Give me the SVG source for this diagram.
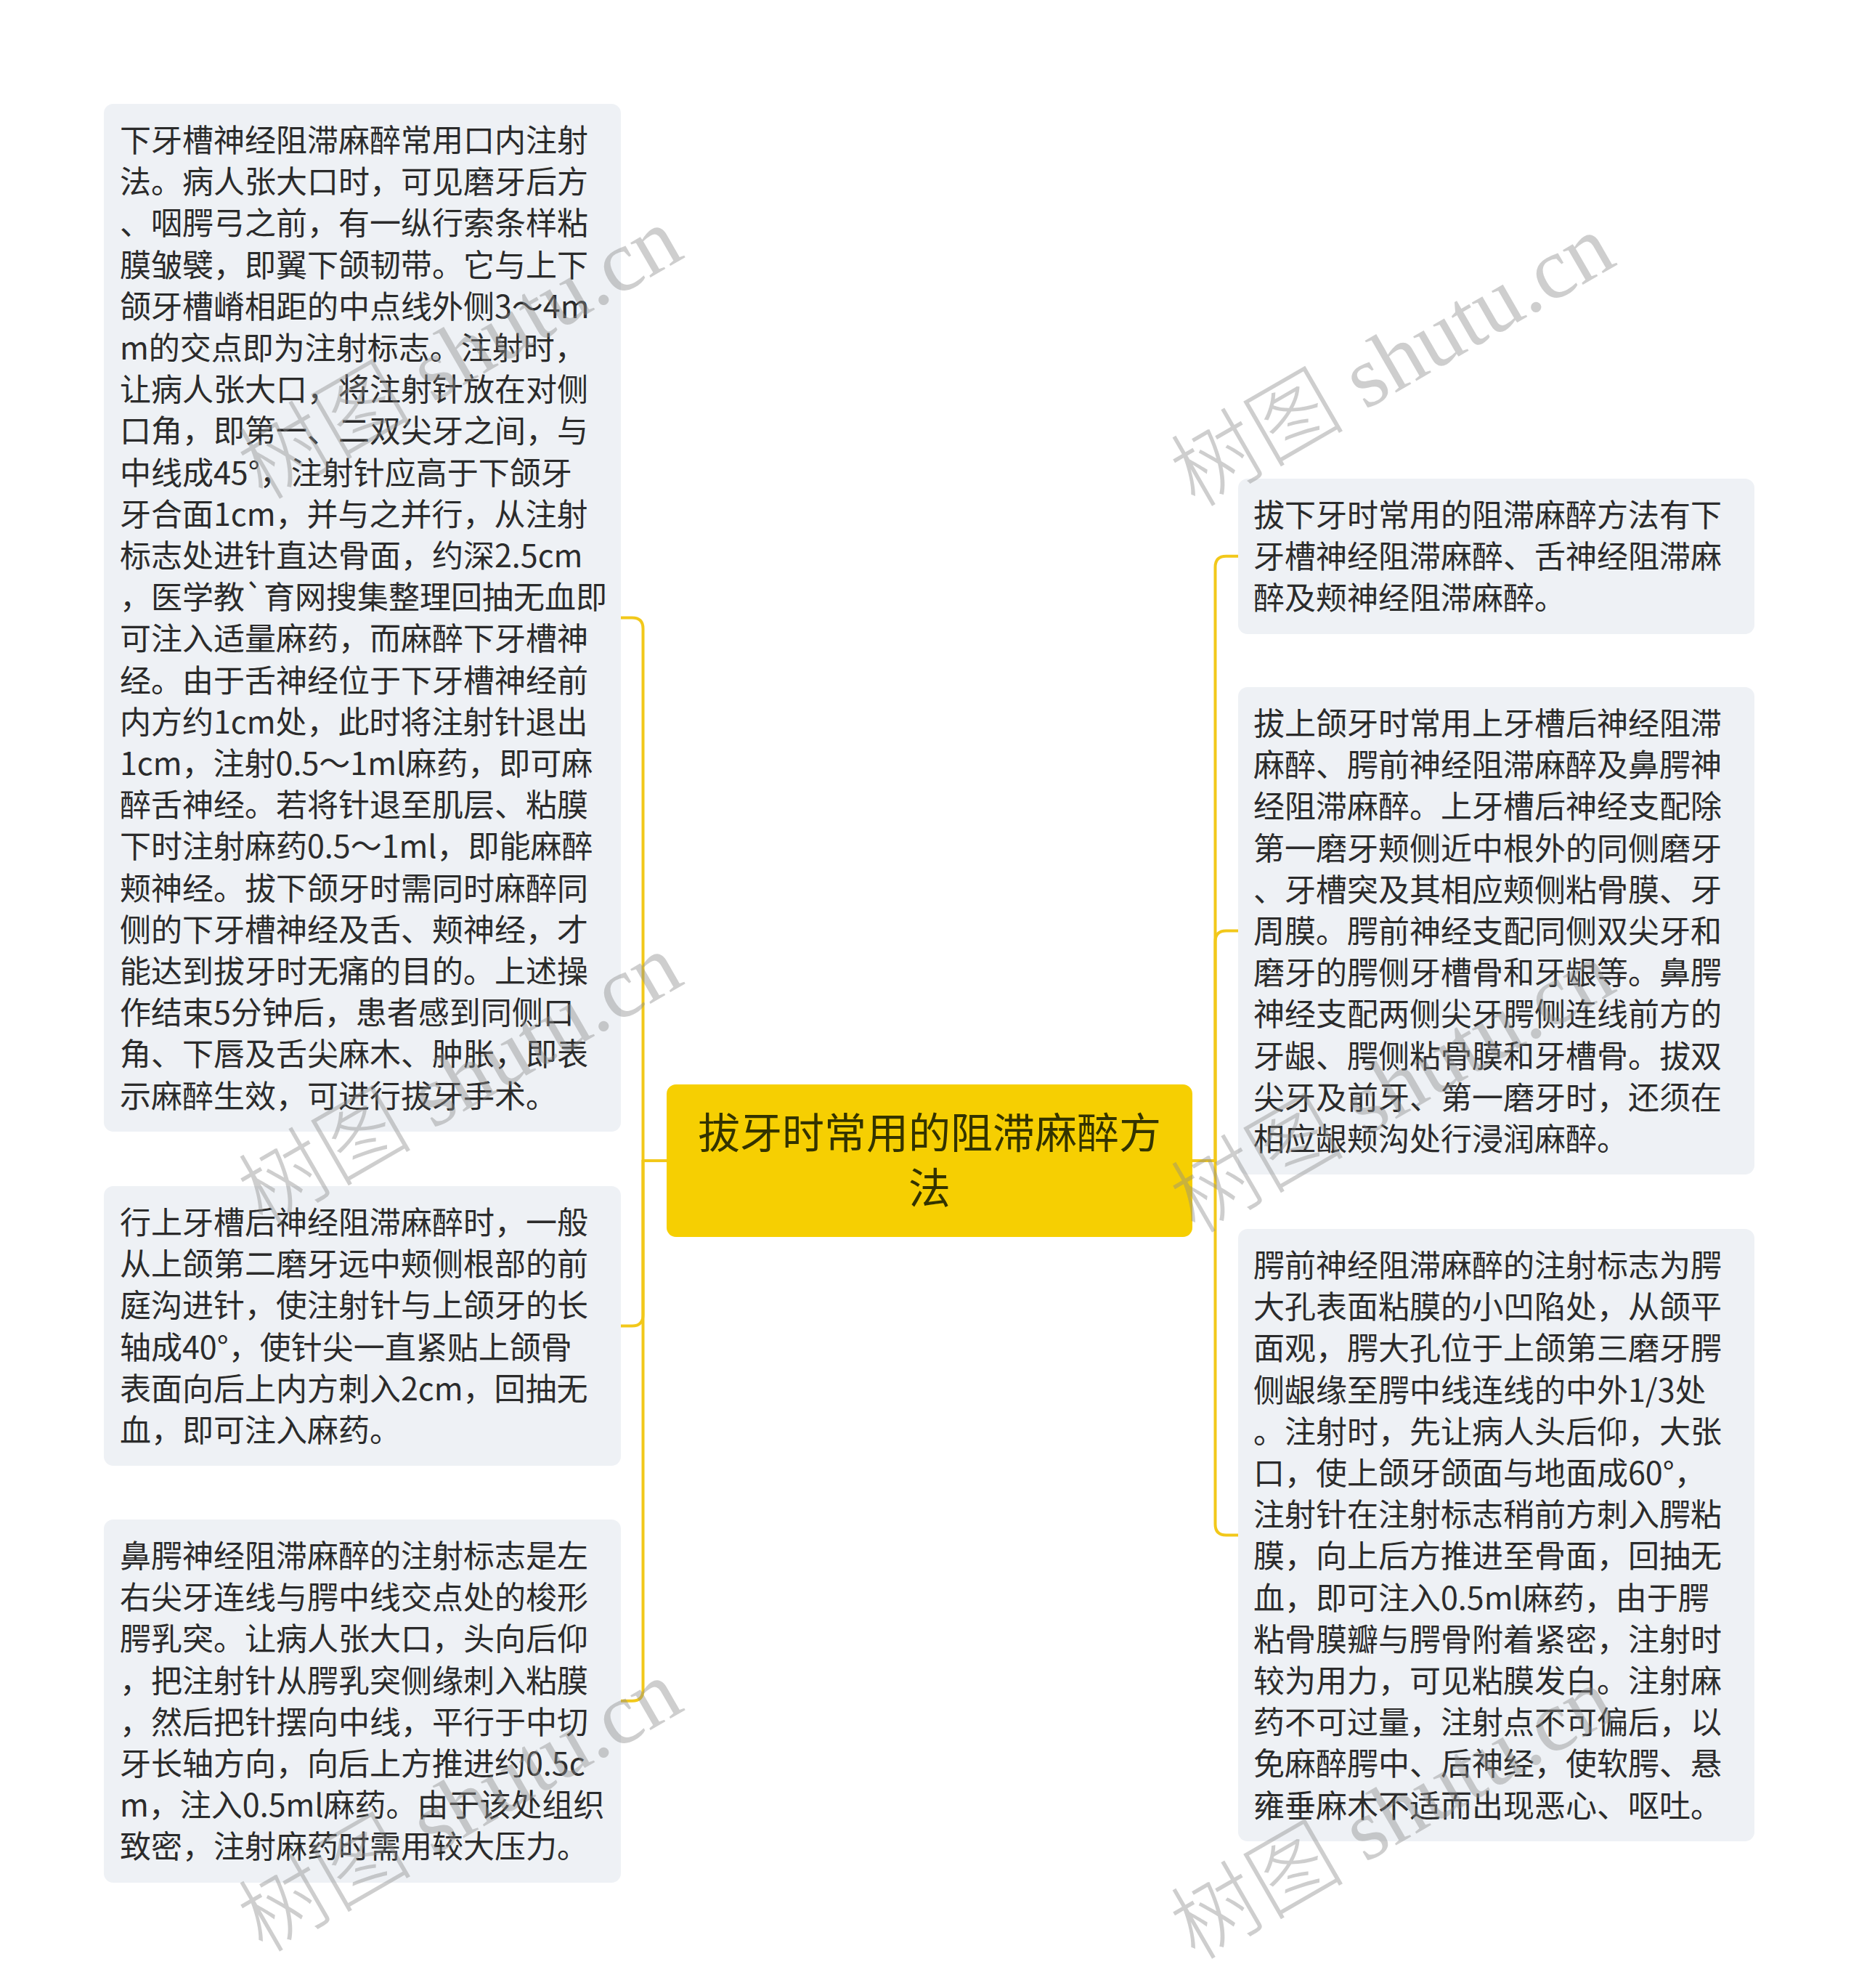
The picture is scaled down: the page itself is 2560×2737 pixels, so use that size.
<svg xmlns="http://www.w3.org/2000/svg" width="2560" height="2737" viewBox="0 0 2560 2737">
<style>
.bg{fill:#ffffff}
.node rect{fill:#eef1f5}
.node text{font-family:"Noto Sans CJK SC","Noto Sans",sans-serif;font-size:43px;fill:#2b2b2b}
.root rect{fill:#f6cf02}
.root text{font-family:"Noto Sans CJK SC","Noto Sans",sans-serif;font-size:58px;fill:#333300;text-anchor:middle}
.conn path{fill:none;stroke:#f2c81a;stroke-width:4;stroke-linejoin:round}
.wm{font-family:"Liberation Serif","Noto Sans CJK SC",serif;font-size:120px;fill:#8c8c8c;opacity:0.42}
.wm .cj{font-family:"Noto Sans CJK SC",sans-serif;font-weight:300}
</style>
<rect class="bg" x="0" y="0" width="2560" height="2737"/>
<g id="connectors" class="conn">
<path d="M918,1598 H885.5 V865.4 Q885.5,850.4 870.5,850.4 H855"/>
<path d="M918,1598 H885.5 V1810.5 Q885.5,1825.5 870.5,1825.5 H855"/>
<path d="M918,1598 H885.5 V2326.8 Q885.5,2341.8 870.5,2341.8 H855"/>
<path d="M1642,1598 H1673.5 V780.8 Q1673.5,765.8 1688.5,765.8 H1705"/>
<path d="M1642,1598 H1673.5 V1296.5 Q1673.5,1281.5 1688.5,1281.5 H1705"/>
<path d="M1642,1598 H1673.5 V2098.4 Q1673.5,2113.4 1688.5,2113.4 H1705"/>
</g>
<g id="root" class="root">
<rect x="918" y="1493" width="724" height="210" rx="13"/>
<text x="1280" y="1581">拔牙时常用的阻滞麻醉方</text>
<text x="1280" y="1657">法</text>
</g>
<g id="node-l1" class="node">
<rect x="143" y="143" width="712" height="1415" rx="13"/>
<text x="165" y="209">
<tspan x="165">下牙槽神经阻滞麻醉常用口内注射</tspan>
<tspan x="165" dy="57.2">法。病人张大口时，可见磨牙后方</tspan>
<tspan x="165" dy="57.2">、咽腭弓之前，有一纵行索条样粘</tspan>
<tspan x="165" dy="57.2">膜皱襞，即翼下颌韧带。它与上下</tspan>
<tspan x="165" dy="57.2">颌牙槽嵴相距的中点线外侧3～4m</tspan>
<tspan x="165" dy="57.2">m的交点即为注射标志。注射时，</tspan>
<tspan x="165" dy="57.2">让病人张大口，将注射针放在对侧</tspan>
<tspan x="165" dy="57.2">口角，即第一、二双尖牙之间，与</tspan>
<tspan x="165" dy="57.2">中线成45°，注射针应高于下颌牙</tspan>
<tspan x="165" dy="57.2">牙合面1cm，并与之并行，从注射</tspan>
<tspan x="165" dy="57.2">标志处进针直达骨面，约深2.5cm</tspan>
<tspan x="165" dy="57.2">，医学教`育网搜集整理回抽无血即</tspan>
<tspan x="165" dy="57.2">可注入适量麻药，而麻醉下牙槽神</tspan>
<tspan x="165" dy="57.2">经。由于舌神经位于下牙槽神经前</tspan>
<tspan x="165" dy="57.2">内方约1cm处，此时将注射针退出</tspan>
<tspan x="165" dy="57.2">1cm，注射0.5～1ml麻药，即可麻</tspan>
<tspan x="165" dy="57.2">醉舌神经。若将针退至肌层、粘膜</tspan>
<tspan x="165" dy="57.2">下时注射麻药0.5～1ml，即能麻醉</tspan>
<tspan x="165" dy="57.2">颊神经。拔下颌牙时需同时麻醉同</tspan>
<tspan x="165" dy="57.2">侧的下牙槽神经及舌、颊神经，才</tspan>
<tspan x="165" dy="57.2">能达到拔牙时无痛的目的。上述操</tspan>
<tspan x="165" dy="57.2">作结束5分钟后，患者感到同侧口</tspan>
<tspan x="165" dy="57.2">角、下唇及舌尖麻木、肿胀，即表</tspan>
<tspan x="165" dy="57.2">示麻醉生效，可进行拔牙手术。</tspan>
</text>
</g>
<g id="node-l2" class="node">
<rect x="143" y="1633" width="712" height="385" rx="13"/>
<text x="165" y="1699">
<tspan x="165">行上牙槽后神经阻滞麻醉时，一般</tspan>
<tspan x="165" dy="57.2">从上颌第二磨牙远中颊侧根部的前</tspan>
<tspan x="165" dy="57.2">庭沟进针，使注射针与上颌牙的长</tspan>
<tspan x="165" dy="57.2">轴成40°，使针尖一直紧贴上颌骨</tspan>
<tspan x="165" dy="57.2">表面向后上内方刺入2cm，回抽无</tspan>
<tspan x="165" dy="57.2">血，即可注入麻药。</tspan>
</text>
</g>
<g id="node-l3" class="node">
<rect x="143" y="2092" width="712" height="500" rx="13"/>
<text x="165" y="2158">
<tspan x="165">鼻腭神经阻滞麻醉的注射标志是左</tspan>
<tspan x="165" dy="57.2">右尖牙连线与腭中线交点处的梭形</tspan>
<tspan x="165" dy="57.2">腭乳突。让病人张大口，头向后仰</tspan>
<tspan x="165" dy="57.2">，把注射针从腭乳突侧缘刺入粘膜</tspan>
<tspan x="165" dy="57.2">，然后把针摆向中线，平行于中切</tspan>
<tspan x="165" dy="57.2">牙长轴方向，向后上方推进约0.5c</tspan>
<tspan x="165" dy="57.2">m，注入0.5ml麻药。由于该处组织</tspan>
<tspan x="165" dy="57.2">致密，注射麻药时需用较大压力。</tspan>
</text>
</g>
<g id="node-r1" class="node">
<rect x="1705" y="659" width="711" height="214" rx="13"/>
<text x="1726" y="725">
<tspan x="1726">拔下牙时常用的阻滞麻醉方法有下</tspan>
<tspan x="1726" dy="57.2">牙槽神经阻滞麻醉、舌神经阻滞麻</tspan>
<tspan x="1726" dy="57.2">醉及颊神经阻滞麻醉。</tspan>
</text>
</g>
<g id="node-r2" class="node">
<rect x="1705" y="946" width="711" height="671" rx="13"/>
<text x="1726" y="1012">
<tspan x="1726">拔上颌牙时常用上牙槽后神经阻滞</tspan>
<tspan x="1726" dy="57.2">麻醉、腭前神经阻滞麻醉及鼻腭神</tspan>
<tspan x="1726" dy="57.2">经阻滞麻醉。上牙槽后神经支配除</tspan>
<tspan x="1726" dy="57.2">第一磨牙颊侧近中根外的同侧磨牙</tspan>
<tspan x="1726" dy="57.2">、牙槽突及其相应颊侧粘骨膜、牙</tspan>
<tspan x="1726" dy="57.2">周膜。腭前神经支配同侧双尖牙和</tspan>
<tspan x="1726" dy="57.2">磨牙的腭侧牙槽骨和牙龈等。鼻腭</tspan>
<tspan x="1726" dy="57.2">神经支配两侧尖牙腭侧连线前方的</tspan>
<tspan x="1726" dy="57.2">牙龈、腭侧粘骨膜和牙槽骨。拔双</tspan>
<tspan x="1726" dy="57.2">尖牙及前牙、第一磨牙时，还须在</tspan>
<tspan x="1726" dy="57.2">相应龈颊沟处行浸润麻醉。</tspan>
</text>
</g>
<g id="node-r3" class="node">
<rect x="1705" y="1692" width="711" height="843" rx="13"/>
<text x="1726" y="1758">
<tspan x="1726">腭前神经阻滞麻醉的注射标志为腭</tspan>
<tspan x="1726" dy="57.2">大孔表面粘膜的小凹陷处，从颌平</tspan>
<tspan x="1726" dy="57.2">面观，腭大孔位于上颌第三磨牙腭</tspan>
<tspan x="1726" dy="57.2">侧龈缘至腭中线连线的中外1/3处</tspan>
<tspan x="1726" dy="57.2">。注射时，先让病人头后仰，大张</tspan>
<tspan x="1726" dy="57.2">口，使上颌牙颌面与地面成60°，</tspan>
<tspan x="1726" dy="57.2">注射针在注射标志稍前方刺入腭粘</tspan>
<tspan x="1726" dy="57.2">膜，向上后方推进至骨面，回抽无</tspan>
<tspan x="1726" dy="57.2">血，即可注入0.5ml麻药，由于腭</tspan>
<tspan x="1726" dy="57.2">粘骨膜瓣与腭骨附着紧密，注射时</tspan>
<tspan x="1726" dy="57.2">较为用力，可见粘膜发白。注射麻</tspan>
<tspan x="1726" dy="57.2">药不可过量，注射点不可偏后，以</tspan>
<tspan x="1726" dy="57.2">免麻醉腭中、后神经，使软腭、悬</tspan>
<tspan x="1726" dy="57.2">雍垂麻木不适而出现恶心、呕吐。</tspan>
</text>
</g>
<g id="watermarks">
<text class="wm" transform="translate(362,690) rotate(-30)"><tspan class="cj">树图</tspan> shutu.cn</text>
<text class="wm" transform="translate(1646,700) rotate(-30)"><tspan class="cj">树图</tspan> shutu.cn</text>
<text class="wm" transform="translate(362,1690) rotate(-30)"><tspan class="cj">树图</tspan> shutu.cn</text>
<text class="wm" transform="translate(1646,1700) rotate(-30)"><tspan class="cj">树图</tspan> shutu.cn</text>
<text class="wm" transform="translate(362,2690) rotate(-30)"><tspan class="cj">树图</tspan> shutu.cn</text>
<text class="wm" transform="translate(1646,2700) rotate(-30)"><tspan class="cj">树图</tspan> shutu.cn</text>
</g>
</svg>
